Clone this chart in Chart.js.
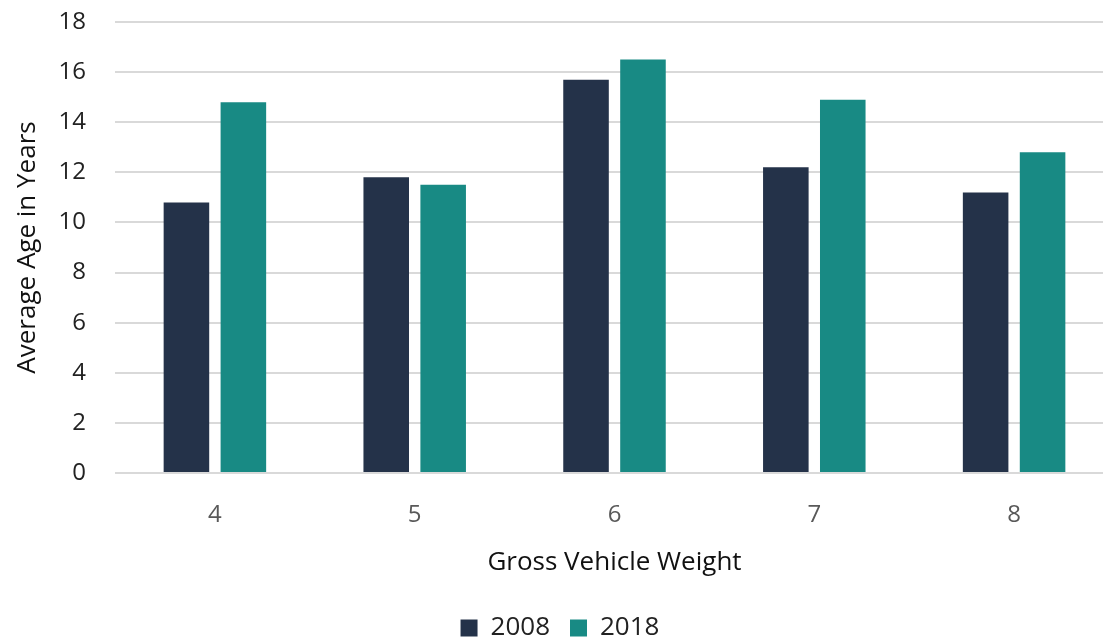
<!DOCTYPE html>
<html>
<head>
<meta charset="utf-8">
<script src="https://cdn.jsdelivr.net/npm/chart.js@4"></script>
<style>
  html, body { margin: 0; padding: 0; background: #fff; overflow: hidden; }
  #wrap { width: 1116px; height: 639px; }
</style>
</head>
<body>
<div id="wrap"><canvas id="grafico"></canvas></div>
<script>
const categorias = ["4", "5", "6", "7", "8"];
const edad2008 = [10.8, 11.8, 15.7, 12.2, 11.2];
const edad2018 = [14.8, 11.5, 16.5, 14.9, 12.8];
const series = ["2008", "2018"];

const fuente = "'Open Sans', 'Noto Sans', sans-serif";
const grafico = document.getElementById("grafico").getContext("2d");

new Chart(grafico, {
    type: 'bar',
    data: {
        labels: categorias,
        datasets: [{
            label: series[0],
            data: edad2008,
            backgroundColor: '#243249',
            categoryPercentage: 0.57,
            barPercentage: 0.8
        }, {
            label: series[1],
            data: edad2018,
            backgroundColor: '#188a84',
            categoryPercentage: 0.57,
            barPercentage: 0.8
        }]
    },
    options: {
        responsive: true,
        maintainAspectRatio: false,
        animation: false,
        layout: { padding: { top: 0, right: 2, left: 6, bottom: -12 } },
        plugins: {
            legend: {
                position: 'bottom',
                labels: {
                    font: { family: fuente, size: 26 },
                    color: '#222',
                    boxWidth: 17,
                    boxHeight: 17,
                    padding: 20
                }
            },
            tooltip: { enabled: false }
        },
        scales: {
            x: {
                grid: { display: false },
                border: { display: false },
                ticks: { font: { family: fuente, size: 24 }, color: '#595959', padding: 20 },
                title: {
                    display: true,
                    text: 'Gross Vehicle Weight',
                    font: { family: fuente, size: 26 },
                    color: '#111',
                    padding: { top: -3, bottom: 17 }
                }
            },
            y: {
                min: 0,
                max: 18,
                ticks: { stepSize: 2, font: { family: fuente, size: 24 }, color: '#222', padding: 29 },
                grid: { color: '#d9d9d9', lineWidth: 2, drawTicks: false },
                border: { display: false },
                title: {
                    display: true,
                    text: 'Average Age in Years',
                    font: { family: fuente, size: 26 },
                    color: '#111',
                    padding: { top: 6, bottom: 0 }
                },
                afterFit: (scale) => {
                    scale.width = 109;
                    scale.paddingTop = 22;
                }
            }
        }
    }
});
</script>
</body>
</html>
